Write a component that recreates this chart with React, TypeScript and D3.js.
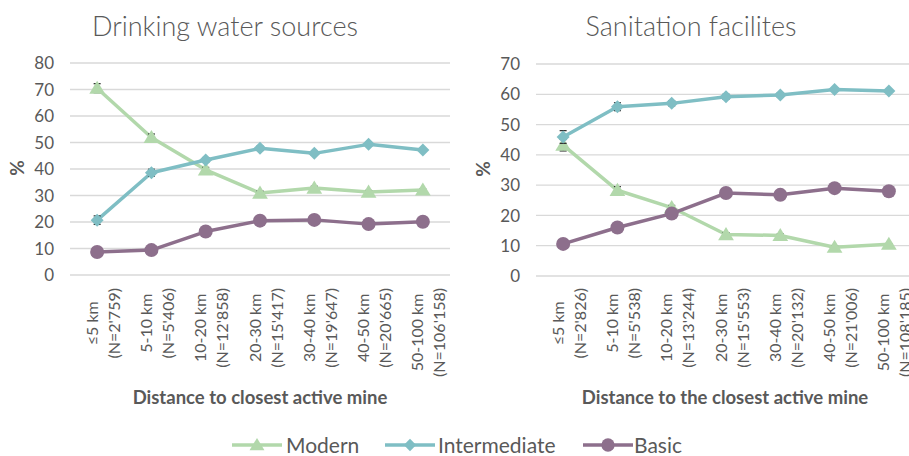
import React, { useEffect, useRef } from "react";
import * as d3 from "d3";

const distances = ["≤5 km", "5-10 km", "10-20 km", "20-30 km", "30-40 km", "40-50 km", "50-100 km"];
const nWater = ["(N=2'759)", "(N=5'406)", "(N=12'858)", "(N=15'417)", "(N=19'647)", "(N=20'665)", "(N=106'158)"];
const nSanitation = ["(N=2'826)", "(N=5'538)", "(N=13'244)", "(N=15'553)", "(N=20'132)", "(N=21'006)", "(N=108'185)"];

const waterModern = [70.5, 51.9, 39.7, 30.9, 32.8, 31.3, 32.1];
const waterIntermediate = [20.7, 38.6, 43.4, 47.8, 45.9, 49.3, 47.2];
const waterBasic = [8.7, 9.4, 16.4, 20.5, 20.8, 19.2, 20.1];
const waterModernErr = [1.7, 1.3, 0.9, 0.8, 0.7, 0.6, 0.3];
const waterIntermediateErr = [1.6, 1.3, 0.9, 0.8, 0.7, 0.7, 0.3];
const waterBasicErr = [1.0, 0.8, 0.6, 0.6, 0.6, 0.5, 0.2];

const sanModern = [43.2, 28.3, 22.6, 13.7, 13.4, 9.5, 10.5];
const sanIntermediate = [45.9, 55.9, 57.0, 59.2, 59.8, 61.6, 61.1];
const sanBasic = [10.6, 16.0, 20.6, 27.4, 26.8, 29.0, 28.0];
const sanModernErr = [1.9, 1.2, 0.7, 0.6, 0.5, 0.4, 0.2];
const sanIntermediateErr = [2.1, 1.3, 0.8, 0.8, 0.7, 0.6, 0.3];
const sanBasicErr = [1.2, 1.0, 0.7, 0.7, 0.6, 0.6, 0.3];

const waterTicks = [0, 10, 20, 30, 40, 50, 60, 70, 80];
const sanTicks = [0, 10, 20, 30, 40, 50, 60, 70];

const seriesNames = ["Modern", "Intermediate", "Basic"];
const seriesColors = ["#b2d8ab", "#7fbec4", "#8d6f8c"];
const seriesShapes = ["triangle", "diamond", "circle"];

const TEXT = "#595959";
const GRID = "#d9d9d9";
const FONT = "Lato, 'Open Sans', sans-serif";

type Panel = {
  title: string;
  titleX: number;
  x0: number;
  x1: number;
  yTop: number;
  yBottom: number;
  ticks: number[];
  nLabels: string[];
  series: number[][];
  errs: number[][];
  xTitle: string;
  xTitleX: number;
  yLabelX: number;
};

const panels: Panel[] = [
  {
    title: "Drinking water sources",
    titleX: 225,
    x0: 70,
    x1: 450,
    yTop: 63,
    yBottom: 275,
    ticks: waterTicks,
    nLabels: nWater,
    series: [waterModern, waterIntermediate, waterBasic],
    errs: [waterModernErr, waterIntermediateErr, waterBasicErr],
    xTitle: "Distance to closest active mine",
    xTitleX: 260,
    yLabelX: 17,
  },
  {
    title: "Sanitation facilites",
    titleX: 691,
    x0: 536,
    x1: 916,
    yTop: 64,
    yBottom: 276,
    ticks: sanTicks,
    nLabels: nSanitation,
    series: [sanModern, sanIntermediate, sanBasic],
    errs: [sanModernErr, sanIntermediateErr, sanBasicErr],
    xTitle: "Distance to the closest active mine",
    xTitleX: 725,
    yLabelX: 483,
  },
];

function drawMarker(g: any, shape: string, x: number, y: number, color: string, scale = 1) {
  if (shape === "triangle") {
    const s = 7.5 * scale;
    g.append("path")
      .attr("d", `M${x},${y - s} L${x + s * 1.05},${y + s * 0.75} L${x - s * 1.05},${y + s * 0.75} Z`)
      .attr("fill", color);
  } else if (shape === "diamond") {
    const s = 6.5 * scale;
    g.append("path")
      .attr("d", `M${x},${y - s} L${x + s},${y} L${x},${y + s} L${x - s},${y} Z`)
      .attr("fill", color);
  } else {
    g.append("circle").attr("cx", x).attr("cy", y).attr("r", 7 * scale).attr("fill", color);
  }
}

export default function App() {
  const ref = useRef<SVGSVGElement | null>(null);

  useEffect(() => {
    const svg = d3.select(ref.current);
    svg.selectAll("*").remove();
    svg.append("rect").attr("width", 909).attr("height", 456).attr("fill", "#ffffff");

    panels.forEach((p) => {
      const maxTick = p.ticks[p.ticks.length - 1];
      const x = d3.scaleBand<string>().domain(distances).range([p.x0, p.x1]);
      const y = d3.scaleLinear().domain([0, maxTick]).range([p.yBottom, p.yTop]);
      const g = svg.append("g");

      g.append("text")
        .attr("x", p.titleX)
        .attr("y", 36)
        .attr("text-anchor", "middle")
        .attr("font-family", FONT)
        .attr("font-weight", 300)
        .attr("font-size", 27)
        .attr("fill", TEXT)
        .text(p.title);

      p.ticks.forEach((t) => {
        g.append("line")
          .attr("x1", p.x0)
          .attr("x2", p.x1)
          .attr("y1", y(t))
          .attr("y2", y(t))
          .attr("stroke", GRID)
          .attr("stroke-width", 1.3);
        g.append("text")
          .attr("x", p.x0 - 16)
          .attr("y", y(t))
          .attr("dy", "0.36em")
          .attr("text-anchor", "end")
          .attr("font-family", FONT)
          .attr("font-size", 17)
          .attr("fill", TEXT)
          .text(String(t));
      });

      g.append("text")
        .attr("transform", `translate(${p.yLabelX},${(p.yTop + p.yBottom) / 2 - 1}) rotate(-90)`)
        .attr("text-anchor", "middle")
        .attr("dy", "0.35em")
        .attr("font-family", FONT)
        .attr("font-weight", 700)
        .attr("font-size", 19)
        .attr("fill", TEXT)
        .text("%");

      distances.forEach((d, i) => {
        const cx = (x(d) as number) + x.bandwidth() / 2;
        const lg = g.append("g");
        const lines = [d, p.nLabels[i]];
        const texts = lines.map((ln) =>
          lg
            .append("text")
            .attr("text-anchor", "middle")
            .attr("dominant-baseline", "central")
            .attr("font-family", FONT)
            .attr("font-size", 16)
            .attr("fill", TEXT)
            .text(ln)
        );
        const lens = texts.map((t) => (t.node() as SVGTextElement).getComputedTextLength());
        const maxLen = Math.max(...lens);
        const top = 288;
        texts.forEach((t, j) => {
          const colX = cx - 6 + j * 22;
          t.attr("transform", `translate(${colX},${top + maxLen / 2}) rotate(-90)`);
        });
      });

      g.append("text")
        .attr("x", p.xTitleX)
        .attr("y", 404)
        .attr("text-anchor", "middle")
        .attr("font-family", FONT)
        .attr("font-weight", 700)
        .attr("font-size", 18.5)
        .attr("fill", TEXT)
        .text(p.xTitle);

      p.series.forEach((vals, si) => {
        const color = seriesColors[si];
        const line = d3
          .line<number>()
          .x((_, i) => (x(distances[i]) as number) + x.bandwidth() / 2)
          .y((v) => y(v));
        g.append("path")
          .attr("d", line(vals) as string)
          .attr("fill", "none")
          .attr("stroke", color)
          .attr("stroke-width", 3.5)
          .attr("stroke-linejoin", "round");
        vals.forEach((v, i) => {
          const px = (x(distances[i]) as number) + x.bandwidth() / 2;
          const e = p.errs[si][i];
          g.append("line")
            .attr("x1", px)
            .attr("x2", px)
            .attr("y1", y(v - e))
            .attr("y2", y(v + e))
            .attr("stroke", "#333")
            .attr("stroke-width", 1);
          [v - e, v + e].forEach((ev) => {
            g.append("line")
              .attr("x1", px - 3.5)
              .attr("x2", px + 3.5)
              .attr("y1", y(ev))
              .attr("y2", y(ev))
              .attr("stroke", "#333")
              .attr("stroke-width", 1.3);
          });
          drawMarker(g, seriesShapes[si], px, y(v), color);
        });
      });
    });

    const legendItems = [
      { lx: 232, tx: 286 },
      { lx: 385, tx: 438 },
      { lx: 583, tx: 634 },
    ];
    const lg = svg.append("g");
    seriesNames.forEach((name, i) => {
      const { lx } = legendItems[i];
      const color = seriesColors[i];
      lg.append("line")
        .attr("x1", lx)
        .attr("x2", lx + 50)
        .attr("y1", 445)
        .attr("y2", 445)
        .attr("stroke", color)
        .attr("stroke-width", 3.5);
      drawMarker(lg, seriesShapes[i], lx + 25, 445, color, 0.95);
      lg.append("text")
        .attr("x", legendItems[i].tx)
        .attr("y", 453)
        .attr("font-family", FONT)
        .attr("font-size", 21)
        .attr("fill", TEXT)
        .text(name);
    });
  }, []);

  return (
    <svg
      ref={ref}
      width={909}
      height={456}
      style={{ position: "absolute", left: 0, top: 0, display: "block" }}
    />
  );
}
